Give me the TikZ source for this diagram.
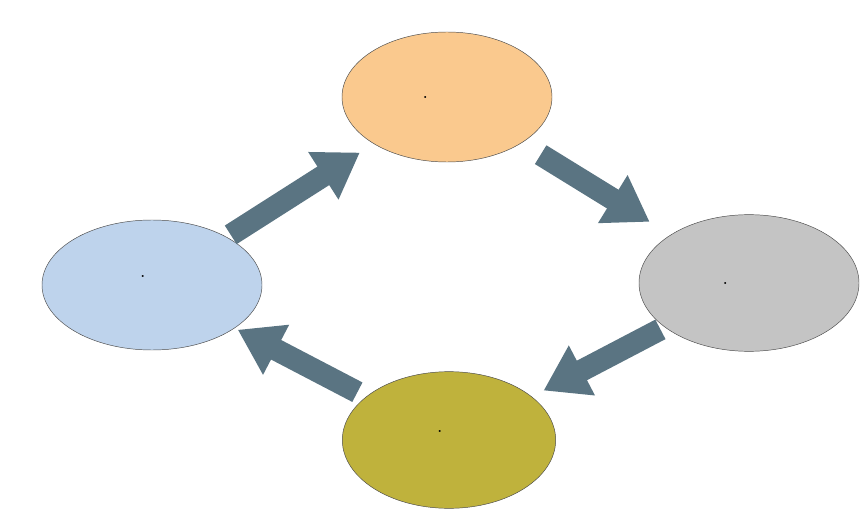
\documentclass[tikz,border=0pt]{standalone}
\usetikzlibrary{arrows.meta}
\definecolor{topfill}{HTML}{FAC98E}
\definecolor{rightfill}{HTML}{C4C4C4}
\definecolor{botfill}{HTML}{BFB23C}
\definecolor{leftfill}{HTML}{BED3EC}
\definecolor{arrowcol}{HTML}{5A7482}
\tikzset{
  stage/.style={ellipse, draw=black!70, thin, align=center, font=\large\bfseries},
  flow/.style={draw=arrowcol, line width=0.66cm, -{Triangle[length=1.3cm,width=1.6cm]}}
}
\usetikzlibrary{shapes.geometric}
\begin{document}
\begin{tikzpicture}[x=0.03cm,y=-0.03cm]
\useasboundingbox (0,0) rectangle (866,511);
% stages
\node (title) at (500,25) {\large सङ्घीय सरकारको बजेट निर्माण प्रक्रिया};
\node[stage, fill=topfill, minimum width=6.3cm, minimum height=3.9cm] (top) at (447,97) {१.~~बजेट तर्जुमा};
\node[stage, fill=rightfill, minimum width=6.6cm, minimum height=4.1cm] (right) at (749,283) {२.~~बजेट स्वीकृति};
\node[stage, fill=botfill, minimum width=6.4cm, minimum height=4.1cm] (bot) at (449,440) {३.~~बजेट\\कार्यान्वियन};
\node[stage, fill=leftfill, minimum width=6.6cm, minimum height=3.9cm] (left) at (152,285) {४.~~बजेट\\मूल्याङ्कन};
% arrows
\draw[flow, shorten <=2.8cm, shorten >=3.1cm] (left.center) -- (top.center);
\draw[flow, shorten <=3.3cm, shorten >=3.5cm] (top.center) -- (right.center);
\draw[flow, shorten <=3.0cm, shorten >=3.2cm] (right.center) -- (bot.center);
\draw[flow, shorten <=3.1cm, shorten >=2.9cm] (bot.center) -- (left.center);
\end{tikzpicture}
\end{document}
